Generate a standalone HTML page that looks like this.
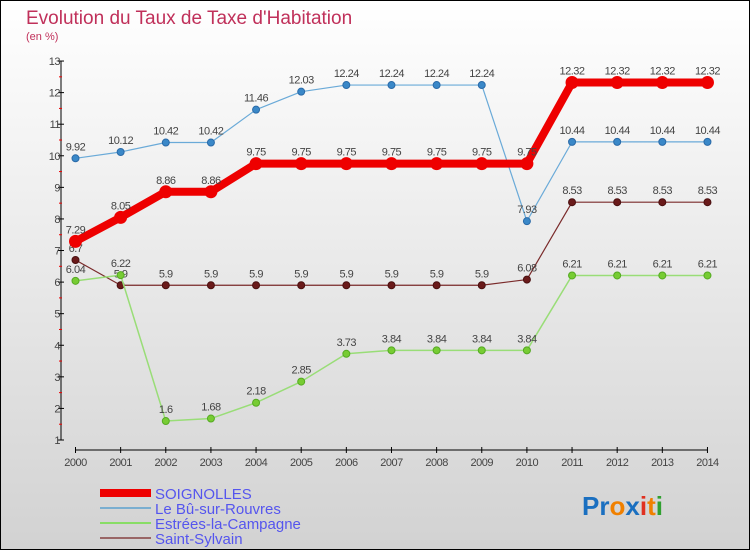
<!DOCTYPE html>
<html><head><meta charset="utf-8"><style>
html,body{margin:0;padding:0}
body{width:750px;height:550px;overflow:hidden;font-family:"Liberation Sans",sans-serif}
</style></head><body>
<svg id="chart" width="750" height="550" xmlns="http://www.w3.org/2000/svg" style="display:block">
<defs><linearGradient id="bg" x1="0" y1="0" x2="0" y2="1"><stop offset="0" stop-color="#ffffff"/><stop offset="1" stop-color="#d2d2d2"/></linearGradient></defs>
<rect x="0.5" y="0.5" width="749" height="549" fill="url(#bg)" stroke="#000"/>
<text x="26" y="24" font-size="19" fill="#c0305a">Evolution du Taux de Taxe d'Habitation</text>
<text x="26" y="40" font-size="11" fill="#c0305a">(en %)</text>
<g id="axes"></g>
<g id="series"></g>
<g id="legend">
<rect x="100" y="489" width="51" height="8" fill="#ee0000"/>
<text x="155" y="499" font-size="15" fill="#5555ee">SOIGNOLLES</text>
<rect x="100" y="507" width="51" height="2" fill="#7aaed0"/>
<text x="155" y="514" font-size="15" fill="#5555ee">Le Bû-sur-Rouvres</text>
<rect x="100" y="522" width="51" height="2" fill="#88dd66"/>
<text x="155" y="529" font-size="15" fill="#5555ee">Estrées-la-Campagne</text>
<rect x="100" y="537" width="51" height="2" fill="#996666"/>
<text x="155" y="544" font-size="15" fill="#5555ee">Saint-Sylvain</text>
</g>
<text x="582" y="515" font-size="26" font-weight="bold"><tspan fill="#1a6fc0">Pr</tspan><tspan fill="#f08000">o</tspan><tspan fill="#1a6fc0">x</tspan><tspan fill="#e03020">i</tspan><tspan fill="#f08000">t</tspan><tspan fill="#30a030">i</tspan></text>
</svg>
<script>
const years=[2000,2001,2002,2003,2004,2005,2006,2007,2008,2009,2010,2011,2012,2013,2014];
const soignolles=[7.29,8.05,8.86,8.86,9.75,9.75,9.75,9.75,9.75,9.75,9.75,12.32,12.32,12.32,12.32];
const leBu=[9.92,10.12,10.42,10.42,11.46,12.03,12.24,12.24,12.24,12.24,7.93,10.44,10.44,10.44,10.44];
const estrees=[6.04,6.22,1.6,1.68,2.18,2.85,3.73,3.84,3.84,3.84,3.84,6.21,6.21,6.21,6.21];
const saintSylvain=[6.7,5.9,5.9,5.9,5.9,5.9,5.9,5.9,5.9,5.9,6.08,8.53,8.53,8.53,8.53];
const yTicks=[1,2,3,4,5,6,7,8,9,10,11,12,13];
const NS="http://www.w3.org/2000/svg";
const X=i=>75.5+i*45.14;
const Y=v=>440-(v-1)*31.58;
function mk(tag,attrs,parent){const e=document.createElementNS(NS,tag);for(const k in attrs)e.setAttribute(k,attrs[k]);parent.appendChild(e);return e;}
const ax=document.getElementById('axes');
let l=mk('line',{x1:61,y1:Y(13),x2:61,y2:Y(1),stroke:'#000'},ax);


l=mk('line',{x1:X(0),y1:450,x2:X(14),y2:450,stroke:'#000'},ax);


yTicks.forEach(v=>{
  mk('line',{x1:58,y1:Y(v),x2:64,y2:Y(v),stroke:'#000'},ax);
  if(v<13) mk('line',{x1:59,y1:Y(v+0.5),x2:62,y2:Y(v+0.5),stroke:'#e00'},ax);
  const t=mk('text',{x:60,y:Y(v)+4,'font-size':11,fill:'#444','text-anchor':'end','letter-spacing':'-0.5'},ax);
  t.textContent=v;
  
  
});
years.forEach((yr,i)=>{
  mk('line',{x1:X(i),y1:447,x2:X(i),y2:453,stroke:'#000'},ax);
  const t=mk('text',{x:X(i),y:466,'font-size':11,fill:'#444','text-anchor':'middle','letter-spacing':'-0.5'},ax);
  t.textContent=yr;
  
  
});
const sg=document.getElementById('series');
function draw(vals,name,color,w,r,dot,dotStroke){
  const g=mk('g',{},sg);
  
  
  mk('polyline',{points:vals.map((v,i)=>X(i)+','+Y(v)).join(' '),fill:'none',stroke:color,'stroke-width':w,'stroke-linejoin':'round'},g);
  vals.forEach((v,i)=>{
    const c=mk('circle',{cx:X(i),cy:Y(v),r:r,fill:dot,stroke:dotStroke,'stroke-width':1},g);
    
    
    const t=mk('text',{x:X(i),y:Y(v)-8,'font-size':11,fill:'#444','text-anchor':'middle','letter-spacing':'-0.5'},g);
    t.textContent=v;
    
    
  });
}
draw(saintSylvain,'saint-sylvain','#7a2a2a',1.2,3.5,'#6a1a1a','#4a1010');
draw(estrees,'estrees','#99dd77',1.5,3.5,'#77cc33','#55aa22');
draw(leBu,'le-bu','#6aaad8',1.2,3.5,'#3a88c8','#2a6aa8');
draw(soignolles,'soignolles','#ee0000',8,6,'#ee0000','#ee0000');
</script>
</body></html>
